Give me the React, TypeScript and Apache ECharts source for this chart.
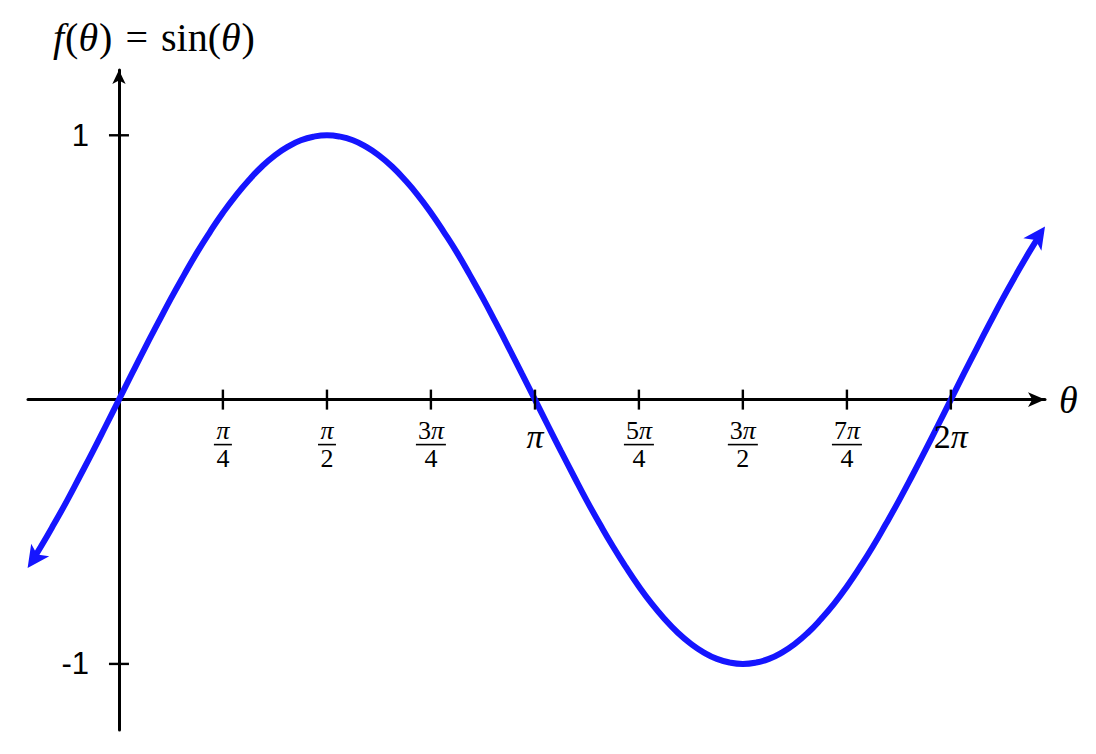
import React, { useEffect, useRef } from 'react';
import * as echarts from 'echarts';

// Sampled points of the plotted curve (θ in radians, f(θ))
const curveTheta = [
  -0.642, -0.589, -0.491, -0.393, -0.295, -0.196, -0.098,
  0, 0.098, 0.196, 0.295, 0.393, 0.491, 0.589, 0.687, 0.785, 0.884, 0.982, 1.08, 1.178, 1.276,
  1.374, 1.473, 1.571, 1.669, 1.767, 1.865, 1.963, 2.062, 2.16, 2.258, 2.356, 2.454, 2.553,
  2.651, 2.749, 2.847, 2.945, 3.043, 3.142, 3.24, 3.338, 3.436, 3.534, 3.632, 3.731, 3.829,
  3.927, 4.025, 4.123, 4.221, 4.32, 4.418, 4.516, 4.614, 4.712, 4.811, 4.909, 5.007, 5.105,
  5.203, 5.301, 5.4, 5.498, 5.596, 5.694, 5.792, 5.89, 5.989, 6.087, 6.185, 6.283, 6.381,
  6.48, 6.578, 6.676, 6.774, 6.872, 6.946,
];
const curveValue = [
  -0.599, -0.556, -0.471, -0.383, -0.29, -0.195, -0.098,
  0, 0.098, 0.195, 0.29, 0.383, 0.471, 0.556, 0.634, 0.707, 0.773, 0.831, 0.882, 0.924, 0.957,
  0.981, 0.995, 1, 0.995, 0.981, 0.957, 0.924, 0.882, 0.831, 0.773, 0.707, 0.634, 0.556,
  0.471, 0.383, 0.29, 0.195, 0.098, 0, -0.098, -0.195, -0.29, -0.383, -0.471, -0.556, -0.634,
  -0.707, -0.773, -0.831, -0.882, -0.924, -0.957, -0.981, -0.995, -1, -0.995, -0.981, -0.957,
  -0.924, -0.882, -0.831, -0.773, -0.707, -0.634, -0.556, -0.471, -0.383, -0.29, -0.195,
  -0.098, 0, 0.098, 0.195, 0.29, 0.383, 0.471, 0.556, 0.616,
];
// Arrow tips at both ends of the curve
const arrowTips = [
  [-0.69, -0.637],
  [6.994, 0.655],
];
const xTickValues = [0.785, 1.571, 2.356, 3.142, 3.927, 4.712, 5.498, 6.283];
const xTickLabels = ['π/4', 'π/2', '3π/4', 'π', '5π/4', '3π/2', '7π/4', '2π'];
const yTickValues = [1, -1];
const yTickLabels = ['1', '-1'];

const BLUE = '#1515ff';
const SERIF = 'Liberation Serif';

export default function App() {
  const ref = useRef<HTMLDivElement>(null);
  useEffect(() => {
    const chart = echarts.init(ref.current!, null, { renderer: 'svg' });

    // digits upright, π in math italic
    const tok = (s: string, up: string, it: string) =>
      s
        .split(/(π)/)
        .filter((p) => p.length > 0)
        .map((p) => (p === 'π' ? `{${it}|π}` : `{${up}|${p}}`))
        .join('');
    const fracLabel = (s: string) => {
      if (s.includes('/')) {
        const [n, d] = s.split('/');
        const bar = n.length > 1 ? 'b2' : 'b1';
        return `${tok(n, 'n', 'ni')}\n{${bar}| }\n{d|${d}}`;
      }
      return tok(s, 'big', 'bigi');
    };
    const txt = { fontFamily: SERIF, color: '#000', fontWeight: 'normal' as const };
    // arrow heads at the two ends of the curve, oriented along it
    const arrowData = [
      { value: arrowTips[0], symbolRotate: 145 },
      { value: arrowTips[1], symbolRotate: -35 },
    ];

    const option = {
      animation: false,
      title: {
        left: 53,
        top: 15,
        padding: 0,
        text: '{i|f}{r|(}{i|θ}{r|)}{eq|=}{r|sin(}{i|θ}{r|)}',
        textStyle: {
          ...txt,
          fontSize: 40,
          lineHeight: 44,
          rich: {
            i: { ...txt, fontStyle: 'italic', fontSize: 40, lineHeight: 44, padding: [0, 1, 0, 0] },
            r: { ...txt, fontSize: 40, lineHeight: 44 },
            eq: { ...txt, fontSize: 40, lineHeight: 44, padding: [0, 13] },
          },
        },
      },
      grid: { left: 28, right: 51, top: 70, bottom: 24, outerBoundsMode: 'none' },
      xAxis: {
        type: 'value',
        min: -0.687,
        max: 6.994,
        splitLine: { show: false },
        axisTick: { show: false },
        axisLabel: { show: false },
        axisLine: {
          onZero: true,
          symbol: ['none', 'arrow'],
          symbolSize: [11, 17],
          lineStyle: { color: '#000', width: 3 },
        },
        name: 'θ',
        nameLocation: 'end',
        nameGap: 14,
        nameTextStyle: {
          ...txt,
          fontStyle: 'italic',
          fontSize: 38,
          align: 'left',
          verticalAlign: 'middle',
        },
      },
      yAxis: {
        type: 'value',
        min: -1.25,
        max: 1.247,
        splitLine: { show: false },
        axisTick: { show: false },
        axisLabel: { show: false },
        axisLine: {
          onZero: true,
          symbol: ['none', 'arrow'],
          symbolSize: [10, 14],
          lineStyle: { color: '#000', width: 3 },
        },
      },
      series: [
        {
          type: 'line',
          data: curveTheta.map((t, i) => [t, curveValue[i]]),
          smooth: true,
          symbol: 'none',
          showSymbol: false,
          clip: false,
          silent: true,
          lineStyle: { color: BLUE, width: 6 },
          z: 3,
        },
        {
          type: 'scatter',
          data: arrowData,
          symbol: 'arrow',
          symbolSize: [16.5, 22],
          clip: false,
          silent: true,
          itemStyle: { color: BLUE, opacity: 1 },
          z: 3,
        },
        {
          type: 'scatter',
          data: xTickValues.map((v) => [v, 0]),
          symbol: 'rect',
          symbolSize: [2.4, 20],
          silent: true,
          itemStyle: { color: '#000', opacity: 1 },
          z: 4,
          label: {
            show: true,
            position: 'bottom',
            distance: 10,
            formatter: (p: any) => fracLabel(xTickLabels[p.dataIndex]),
            rich: {
              n: { ...txt, fontSize: 26, lineHeight: 22, align: 'center' },
              ni: { ...txt, fontStyle: 'italic', fontSize: 26, lineHeight: 22, align: 'center' },
              d: { ...txt, fontSize: 26, lineHeight: 22, align: 'center' },
              b1: { width: 18, height: 1.6, backgroundColor: '#000', lineHeight: 6, fontSize: 1, align: 'center' },
              b2: { width: 30, height: 1.6, backgroundColor: '#000', lineHeight: 6, fontSize: 1, align: 'center' },
              big: { ...txt, fontSize: 34, lineHeight: 34, align: 'center' },
              bigi: { ...txt, fontStyle: 'italic', fontSize: 34, lineHeight: 34, align: 'center' },
            },
          },
        },
        {
          type: 'scatter',
          data: yTickValues.map((v) => [0, v]),
          symbol: 'rect',
          symbolSize: [20, 2.4],
          silent: true,
          itemStyle: { color: '#000', opacity: 1 },
          z: 4,
          label: {
            show: true,
            position: 'left',
            distance: 20,
            fontFamily: 'Liberation Sans',
            fontSize: 31,
            color: '#000',
            formatter: (p: any) => yTickLabels[p.dataIndex],
          },
        },
      ],
    };
    chart.setOption(option as any);
    return () => chart.dispose();
  }, []);
  return (
    <div
      ref={ref}
      style={{ position: 'absolute', left: 0, top: 0, width: 1096, height: 754 }}
    />
  );
}
